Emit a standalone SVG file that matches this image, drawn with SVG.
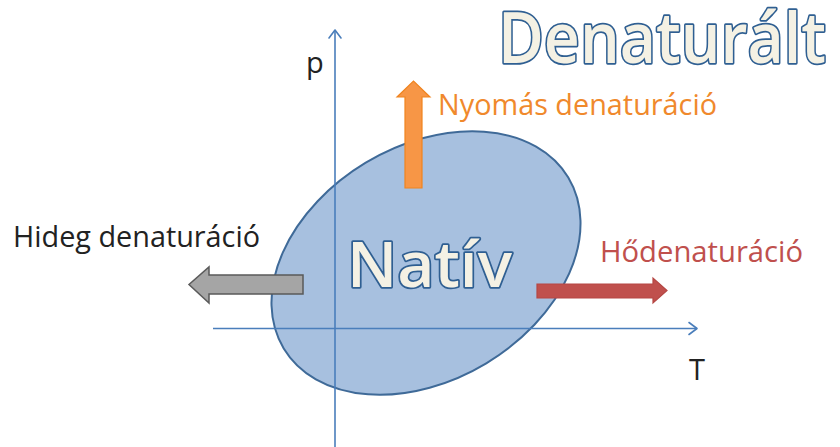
<svg xmlns="http://www.w3.org/2000/svg" width="840" height="447" viewBox="0 0 840 447">
  <defs>
    <style>
      .lbl { font-family: "Open Sans", "Liberation Sans", sans-serif; font-size: 29px; }
      .big { font-family: "Open Sans", "Liberation Sans", sans-serif; font-weight: 600; fill: #f4f1e4; stroke: #2f5f92; stroke-width: 3.5; paint-order: stroke; stroke-linejoin: round; }
      .axis { stroke: #4a7ebb; stroke-width: 1.6; fill: none; }
      .axhead { stroke: #4a7ebb; stroke-width: 1.6; fill: none; stroke-linecap: round; stroke-linejoin: round; }
    </style>
  </defs>
  <rect width="840" height="447" fill="#ffffff"/>

  <g id="nativ">
    <ellipse cx="426" cy="263" rx="166" ry="117" transform="rotate(-31 426 263)" fill="#a7c0df" stroke="#3f6a98" stroke-width="2"/>
  </g>

  <g id="connectors">
    <line class="axis" x1="335" y1="447" x2="335" y2="30"/>
    <polyline class="axhead" points="329,38 335,30 341,38"/>
    <line class="axis" x1="213" y1="328.5" x2="697" y2="328.5"/>
    <polyline class="axhead" points="689,322.5 697,328.5 689,334.5"/>
  </g>

  <g id="arrow-nyomas">
    <polygon points="405,188 422,188 422,97 430,97 413.5,81 397,97 405,97" fill="#f79646" stroke="#f0841f" stroke-width="1.2"/>
  </g>
  <g id="arrow-hideg">
    <polygon points="303,275 303,294 209,294 209,303 189,284.5 209,267 209,275" fill="#a5a5a5" stroke="#5a5a5a" stroke-width="1.5"/>
  </g>
  <g id="arrow-ho">
    <polygon points="537,284 653,284 653,278 667,290.5 653,303 653,298 537,298" fill="#c0504d" stroke="#b54744" stroke-width="1.2"/>
  </g>

  <g id="label-nativ">
    <text class="big" x="347" y="287" font-size="64" textLength="165" lengthAdjust="spacingAndGlyphs">Natív</text>
  </g>
  <g id="label-denaturalt">
    <text class="big" x="498" y="63" font-size="70" textLength="328" lengthAdjust="spacingAndGlyphs">Denaturált</text>
  </g>
  <g id="label-hideg">
    <text class="lbl" x="13" y="247" fill="#222222" textLength="247" lengthAdjust="spacingAndGlyphs">Hideg denaturáció</text>
  </g>
  <g id="label-nyomas">
    <text class="lbl" x="438" y="115" fill="#f0892c" textLength="279" lengthAdjust="spacingAndGlyphs">Nyomás denaturáció</text>
  </g>
  <g id="label-ho">
    <text class="lbl" x="600" y="262" fill="#c0504d" textLength="203" lengthAdjust="spacingAndGlyphs">Hődenaturáció</text>
  </g>
  <g id="label-p">
    <text class="lbl" x="306" y="73" fill="#222222">p</text>
  </g>
  <g id="label-T">
    <text class="lbl" x="689" y="380" fill="#222222">T</text>
  </g>
</svg>
